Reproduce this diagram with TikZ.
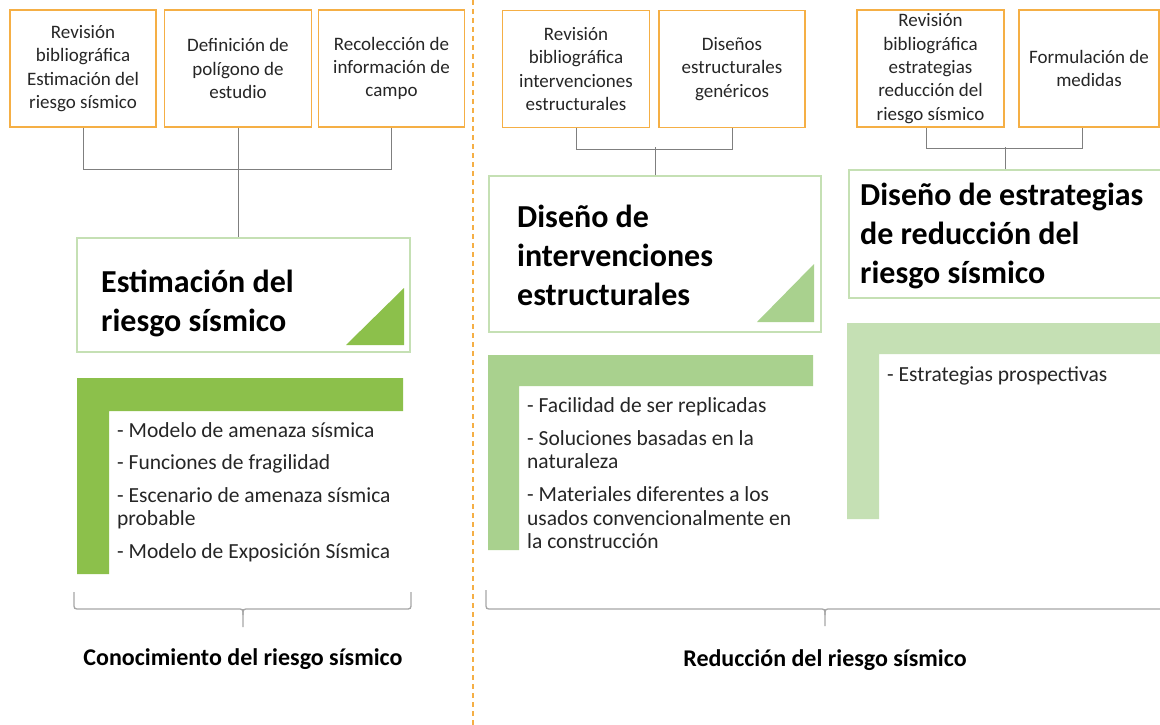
\documentclass[tikz,border=0pt]{standalone}
\usepackage{fontspec}
\setmainfont{Carlito}
\definecolor{orangeB}{HTML}{F5AF45}
\definecolor{greenB}{HTML}{C5E0B4}
\definecolor{greenA}{HTML}{8CC04B}
\definecolor{greenM}{HTML}{A9D18E}
\definecolor{greenL}{HTML}{C5E0B4}
\definecolor{connG}{HTML}{7F7F7F}
\definecolor{braceG}{HTML}{A6A6A6}
\newcommand\tstrut{\rule{0pt}{26pt}}
\newcommand\lstrut{\rule{0pt}{17pt}}
\begin{document}
\begin{tikzpicture}[x=1pt,y=-1pt,
  topbox/.style={draw=orangeB, line width=1.5pt, fill=white, inner sep=0pt,
    minimum height=117pt, align=center, font=\fontsize{19}{23.3}\selectfont, text=black!85},
  gbox/.style={draw=greenB, line width=1.5pt, fill=white, inner sep=0pt},
  conn/.style={draw=connG, line width=1pt},
  ttl/.style={anchor=north west, inner sep=0pt, align=left, font=\fontsize{32}{39}\selectfont\bfseries},
  lst/.style={anchor=north west, inner sep=0pt, align=left, font=\fontsize{21.5}{23.5}\selectfont, text=black!85},
  lbl/.style={anchor=base, inner sep=0pt, font=\fontsize{24}{29}\selectfont\bfseries},
  brc/.style={draw=braceG, line width=1.3pt},
  ]
\clip (0,0) rectangle (1160,725);
\fill[white] (0,0) rectangle (1160,725);

% divider
\draw[orangeB, line width=1.5pt, dash pattern=on 5pt off 4pt] (473,0) -- (473,725);

% top boxes
\node[topbox, minimum width=146pt] (b1) at (83,68.5) {Revisión\\bibliográfica\\Estimación del\\riesgo sísmico};
\node[topbox, minimum width=147pt] (b2) at (238,68.5) {Definición de\\polígono de\\estudio};
\node[topbox, minimum width=146pt] (b3) at (391.5,68.5) {Recolección de\\información de\\campo};
\node[topbox, minimum width=147pt] (bA) at (576,69) {Revisión\\bibliográfica\\intervenciones\\estructurales};
\node[topbox, minimum width=146pt] (bB) at (732,69) {Diseños\\estructurales\\genéricos};
\node[topbox, minimum width=147pt] (bC) at (930.5,68.5) {Revisión\\bibliográfica\\estrategias\\reducción del\\riesgo sísmico};
\node[topbox, minimum width=140pt] (bD) at (1089,68.5) {Formulación de\\medidas};

% green boxes
\node[gbox, minimum width=333pt, minimum height=114pt] (g1) at (243.5,295) {};
\node[gbox, minimum width=332pt, minimum height=156pt] (g2) at (655,254) {};
\node[gbox, minimum width=314pt, minimum height=128pt] (g3) at (1006,234) {};

% connectors
\draw[conn] (b1.south) -- ++(0,42) -| (b3.south);
\draw[conn] (b2.south) -- (b2.south |- g1.north);
\draw[conn] (bA.south) -- ++(0,21) -| (bB.south);
\draw[conn] (g2.north) -- ++(0,-28);
\draw[conn] ([xshift=-4.5pt]bC.south) -- ++(0,21) -| ([xshift=-7pt]bD.south);
\draw[conn] ([xshift=-1pt]g3.north) -- ++(0,-22);

% triangles
\fill[greenA] (346,345) -- (404,345) -- (404,288) -- cycle;
\fill[greenM] (757,322) -- (814,322) -- (814,264) -- cycle;

% titles
\node[ttl] (t1) at (101,266) {\tstrut Estimación del\\riesgo sísmico};
\node[ttl] (t2) at (517,201) {\tstrut Diseño de\\intervenciones\\estructurales};
\node[ttl] (t3) at (860,179) {\tstrut Diseño de estrategias\\de reducción del\\riesgo sísmico};

% L shapes
\fill[greenA] (77,378) -- (403,378) -- (403,411) -- (109,411) -- (109,574) -- (77,574) -- cycle;
\fill[greenM] (488,355) -- (813,355) -- (813,386) -- (519,386) -- (519,550) -- (488,550) -- cycle;
\fill[greenL] (847,323) -- (1165,323) -- (1165,354) -- (879,354) -- (879,519) -- (847,519) -- cycle;

% lists
\node[lst] (l1) at (117,420) {\lstrut - Modelo de amenaza sísmica\\[9pt]- Funciones de fragilidad\\[9pt]- Escenario de amenaza sísmica\\probable\\[9pt]- Modelo de Exposición Sísmica};
\node[lst] (l2) at (527,395) {\lstrut - Facilidad de ser replicadas\\[9.5pt]- Soluciones basadas en la\\naturaleza\\[9.5pt]- Materiales diferentes a los\\usados convencionalmente en\\la construcción};
\node[lst] (l3) at (887,364) {\lstrut - Estrategias prospectivas};

% braces
\draw[brc] (74,592) -- (74,603) .. controls (74,609) .. (80,609) -- (237,609) .. controls (243,609) .. (243,615) -- (243,627);
\draw[brc] (411,592) -- (411,603) .. controls (411,609) .. (405,609) -- (249,609) .. controls (243,609) .. (243,615);
\draw[brc] (486,590) -- (486,603) .. controls (486,609) .. (492,609) -- (819,609) .. controls (825,609) .. (825,615) -- (825,626);
\draw[brc] (1170,609) -- (831,609) .. controls (825,609) .. (825,615);

% labels
\node[lbl] (c1) at (243,665) {Conocimiento del riesgo sísmico};
\node[lbl] (c2) at (825,666) {Reducción del riesgo sísmico};
\end{tikzpicture}
\end{document}
